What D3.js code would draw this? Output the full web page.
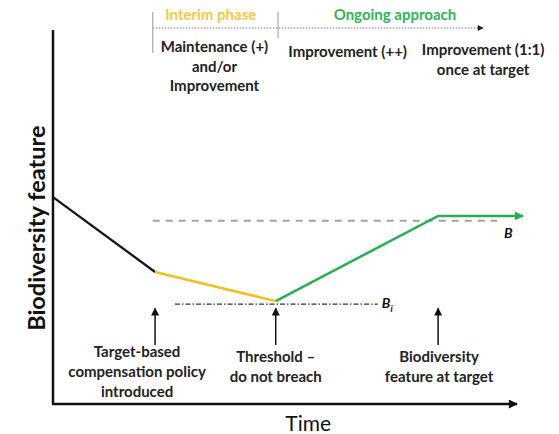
<!DOCTYPE html>
<html>
<head>
<meta charset="utf-8">
<script src="https://cdn.jsdelivr.net/npm/d3@7"></script>
<style>
  body { margin: 0; background: #fff; }
  text { font-family: Lato, "Open Sans", sans-serif; }
</style>
</head>
<body>
<div id="chart"></div>
<script>
// trajectory of the biodiversity feature (time 0..100, value 0..100)
var trajBefore = [{t: 0, v: 55.3}, {t: 22, v: 35.3}]
var trajInterim = [{t: 22, v: 35.3}, {t: 48, v: 27.5}]
var trajOngoing = [{t: 48, v: 27.5}, {t: 83, v: 50.3}, {t: 101.3, v: 50.3}]

// reference levels
var baseline = {v: 49, t0: 21.5, t1: 95.7, label: 'B'}
var threshold = {v: 26.7, t0: 26.3, t1: 70, label: 'B'}

// events along the time axis
var events = [
  {t: 22, lines: ['Target-based', 'compensation policy', 'introduced'], dx: -18},
  {t: 48, lines: ['Threshold \u2013', 'do not breach'], dx: 0},
  {t: 83, lines: ['Biodiversity', 'feature at target'], dx: 1}
]

// phases on the top bar
var phases = [
  {name: 'Interim phase', t0: 21.5, t1: 48.5, color: '#f8c843', lines: ['Maintenance (+)', 'and/or', 'Improvement']},
  {name: 'Ongoing approach', t0: 48.5, t1: 92.7, color: '#2fb457', lines: ['Improvement (++)']}
]
var finalNote = ['Improvement (1:1)', 'once at target']

var width = 559, height = 434
var fs = 15

var x = d3.scaleLinear().domain([0, 100]).range([53, 517])
var y = d3.scaleLinear().domain([0, 100]).range([404, 30])

var svg = d3.select('#chart').append('svg')
  .attr('width', width)
  .attr('height', height)

var defs = svg.append('defs')
function marker(id, color, w, h) {
  defs.append('marker')
    .attr('id', id)
    .attr('viewBox', '0 0 10 10')
    .attr('refX', 9).attr('refY', 5)
    .attr('markerWidth', w).attr('markerHeight', h)
    .attr('markerUnits', 'userSpaceOnUse')
    .attr('orient', 'auto')
    .append('path')
      .attr('d', 'M0,0 L10,5 L0,10 Z')
      .attr('fill', color)
}
marker('arrBlack', '#111', 9, 8)
marker('arrGreen', '#2aae52', 11, 9)
marker('arrSmall', '#222', 7, 6)
marker('arrAxis', '#111', 11, 9)

// axes
svg.append('line')
  .attr('x1', x(0)).attr('y1', y(100))
  .attr('x2', x(0)).attr('y2', y(0))
  .attr('stroke', '#111').attr('stroke-width', 2.5)
svg.append('line')
  .attr('x1', x(0) - 1).attr('y1', y(0))
  .attr('x2', x(100)).attr('y2', y(0))
  .attr('stroke', '#111').attr('stroke-width', 2.5)
  .attr('marker-end', 'url(#arrAxis)')

svg.append('text')
  .attr('transform', 'translate(36,' + y(47) + ') rotate(-90)')
  .attr('text-anchor', 'middle')
  .attr('dominant-baseline', 'central')
  .attr('font-size', 23.5).attr('font-weight', 700)
  .attr('fill', '#111')
  .text('Biodiversity feature')

svg.append('text')
  .attr('x', x(55)).attr('y', 431)
  .attr('text-anchor', 'middle')
  .attr('font-size', 21).attr('fill', '#111')
  .text('Time')

// reference levels
svg.append('line')
  .attr('x1', x(baseline.t0)).attr('x2', x(baseline.t1))
  .attr('y1', y(baseline.v)).attr('y2', y(baseline.v))
  .attr('stroke', '#a3a3a3').attr('stroke-width', 2)
  .attr('stroke-dasharray', '7,6')
svg.append('text')
  .attr('x', x(baseline.t1) + 7).attr('y', y(baseline.v) + 17)
  .attr('font-size', 14).attr('font-weight', 700).attr('font-style', 'italic')
  .attr('fill', '#111')
  .text(baseline.label)

svg.append('line')
  .attr('x1', x(threshold.t0)).attr('x2', x(threshold.t1))
  .attr('y1', y(threshold.v)).attr('y2', y(threshold.v))
  .attr('stroke', '#333').attr('stroke-width', 1.2)
  .attr('stroke-dasharray', '5,2,1.5,2')
var bi = svg.append('text')
  .attr('x', x(threshold.t1) + 4).attr('y', y(threshold.v) + 4)
  .attr('font-size', 14).attr('font-weight', 700).attr('font-style', 'italic')
  .attr('fill', '#111')
  .text(threshold.label)
bi.append('tspan').attr('font-size', 9).attr('dy', 4).text('i')

// trajectory
var line = d3.line()
  .x(function(d) { return x(d.t) })
  .y(function(d) { return y(d.v) })

svg.append('path').datum(trajBefore)
  .attr('d', line).attr('fill', 'none')
  .attr('stroke', '#151515').attr('stroke-width', 2.3)
svg.append('path').datum(trajInterim)
  .attr('d', line).attr('fill', 'none')
  .attr('stroke', '#f2bf23').attr('stroke-width', 2.5)
svg.append('path').datum(trajOngoing)
  .attr('d', line).attr('fill', 'none')
  .attr('stroke', '#2aae52').attr('stroke-width', 2.5)
  .attr('marker-end', 'url(#arrGreen)')

// event arrows and labels
var ev = svg.selectAll('.event').data(events).enter()
  .append('g').attr('class', 'event')
ev.append('line')
  .attr('x1', function(d) { return x(d.t) }).attr('x2', function(d) { return x(d.t) })
  .attr('y1', y(15.8)).attr('y2', y(25.6))
  .attr('stroke', '#111').attr('stroke-width', 1.5)
  .attr('marker-end', 'url(#arrBlack)')
ev.each(function(d) {
  var off = d.lines.length === 3 ? 357 : 362
  d3.select(this).selectAll('text').data(d.lines).enter()
    .append('text')
      .attr('x', x(d.t) + d.dx)
      .attr('y', function(s, i) { return off + i * 20 })
      .attr('text-anchor', 'middle')
      .attr('font-size', fs).attr('font-weight', 700)
      .attr('fill', '#222')
      .text(function(s) { return s })
})

// top phase bar
svg.append('line')
  .attr('x1', x(phases[0].t0)).attr('x2', x(phases[1].t1))
  .attr('y1', 28).attr('y2', 28)
  .attr('stroke', '#777').attr('stroke-width', 1)
  .attr('stroke-dasharray', '1.5,1.5')
  .attr('marker-end', 'url(#arrSmall)')

svg.append('line')
  .attr('x1', x(phases[0].t0)).attr('x2', x(phases[0].t0))
  .attr('y1', 12).attr('y2', 53)
  .attr('stroke', '#999').attr('stroke-width', 1)
svg.append('line')
  .attr('x1', x(phases[1].t0)).attr('x2', x(phases[1].t0))
  .attr('y1', 12).attr('y2', 38)
  .attr('stroke', '#999').attr('stroke-width', 1)

var ph = svg.selectAll('.phase').data(phases).enter()
  .append('g').attr('class', 'phase')
ph.append('text')
  .attr('x', function(d, i) { return i === 0 ? x(34) : x(73.7) })
  .attr('y', 20)
  .attr('text-anchor', 'middle')
  .attr('font-size', fs).attr('font-weight', 700)
  .attr('fill', function(d) { return d.color })
  .text(function(d) { return d.name })
ph.each(function(d, k) {
  var cx = k === 0 ? x(34.8) : x(63.5)
  var top = k === 0 ? 52 : 57
  d3.select(this).selectAll('.note').data(d.lines).enter()
    .append('text').attr('class', 'note')
      .attr('x', cx)
      .attr('y', function(s, i) { return top + i * 19.5 })
      .attr('text-anchor', 'middle')
      .attr('font-size', fs).attr('font-weight', 700)
      .attr('fill', '#222')
      .text(function(s) { return s })
})
svg.selectAll('.final').data(finalNote).enter()
  .append('text').attr('class', 'final')
    .attr('x', x(92.7))
    .attr('y', function(s, i) { return 55 + i * 19.5 })
    .attr('text-anchor', 'middle')
    .attr('font-size', fs).attr('font-weight', 700)
    .attr('fill', '#222')
    .text(function(s) { return s })
</script>
</body>
</html>
